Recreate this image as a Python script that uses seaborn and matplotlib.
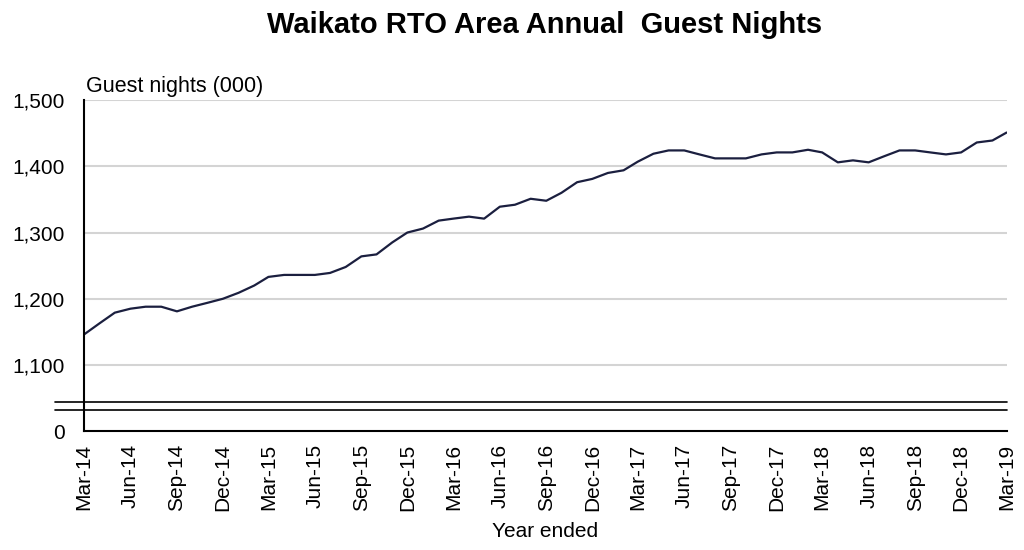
import pandas as pd
import matplotlib
matplotlib.use("Agg")
import matplotlib.pyplot as plt
import matplotlib.transforms as mtransforms
import seaborn as sns

# annual guest nights (000), monthly from Mar-14 to Mar-19
months = pd.date_range("2014-03-01", "2019-03-01", freq="MS")
guest_nights = [
    1146, 1163, 1179, 1185, 1188, 1188, 1181, 1188, 1194, 1200,
    1209, 1220, 1233, 1236, 1236, 1236, 1239, 1248, 1264, 1267,
    1285, 1300, 1306, 1318, 1321, 1324, 1321, 1339, 1342, 1351,
    1348, 1360, 1376, 1381, 1390, 1394, 1407, 1419, 1424, 1424,
    1418, 1412, 1412, 1412, 1418, 1421, 1421, 1425, 1421, 1406,
    1409, 1406, 1415, 1424, 1424, 1421, 1418, 1421, 1436, 1439,
    1451,
]
y_ticks = [1000, 1100, 1200, 1300, 1400, 1500]
y_labels = ["0", "1,100", "1,200", "1,300", "1,400", "1,500"]
break_levels = [1044, 1032]

df = pd.DataFrame({"month": months, "nights": guest_nights})

sns.set_style("white")
plt.rcParams["font.family"] = ["Liberation Sans", "DejaVu Sans"]
plt.rcParams["text.color"] = "black"
plt.rcParams["xtick.color"] = "black"
plt.rcParams["ytick.color"] = "black"
plt.rcParams["axes.labelcolor"] = "black"

fig = plt.figure(figsize=(10.24, 5.5), dpi=100)
ax = fig.add_axes([0.082, 0.216, 0.901, 0.602])

for yv in y_ticks[1:]:
    ax.axhline(yv, color="#d4d4d4", lw=1.5, zorder=0)

sns.lineplot(data=df, x="month", y="nights", ax=ax, color="#1b1f3f", lw=1.6)

trans = mtransforms.blended_transform_factory(ax.transAxes, ax.transData)
for b in break_levels:
    ax.plot([-0.031, 1.0], [b, b], color="black", lw=1.2, transform=trans, clip_on=False)

ax.set_ylim(1000, 1500)
ax.set_yticks(y_ticks)
ax.set_yticklabels(y_labels, fontsize=15)
ax.set_xlim(months[0], months[-1])
tick_months = months[::3]
ax.set_xticks(tick_months)
ax.set_xticklabels([m.strftime("%b-%y") for m in tick_months], rotation=90, fontsize=15)

for s in ["top", "right"]:
    ax.spines[s].set_visible(False)
for s in ["left", "bottom"]:
    ax.spines[s].set_color("black")
    ax.spines[s].set_linewidth(1.5)
ax.tick_params(axis="x", direction="out", length=6, width=1.5, color="black", pad=3)
ax.tick_params(axis="y", length=0, pad=14)

ax.set_xlabel("Year ended", fontsize=15, labelpad=8)
ax.set_ylabel("")
ax.text(0.002, 1.01, "Guest nights (000)", transform=ax.transAxes, fontsize=15.5, va="bottom", ha="left")
fig.suptitle("Waikato RTO Area Annual  Guest Nights", fontsize=21, fontweight="bold", x=0.532, y=0.98)

fig.savefig("out.png", dpi=100)
